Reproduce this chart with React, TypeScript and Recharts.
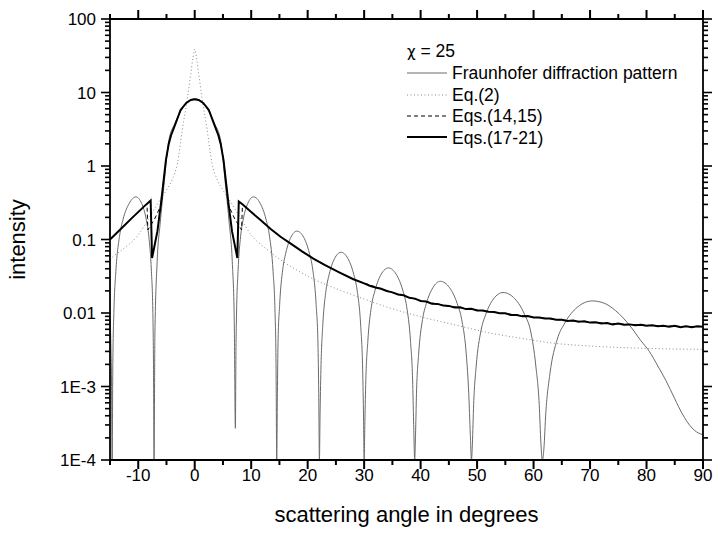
import React from 'react';
import { LineChart, Line, XAxis, YAxis } from 'recharts';

// scattering angle (deg) vs intensity (chi = 25)
const fraunhofer: [number, number][] = [
  [-15, 0.009], [-14.85, 0.0039], [-14.72, 0.001], [-14.62, 1e-4],
  [-14.5, 0.002], [-14.3, 0.011], [-13.96, 0.037], [-13.31, 0.111], [-12.67, 0.19], [-11.6, 0.31],
  [-10.4, 0.38], [-9.4, 0.31], [-8.6, 0.19], [-8.13, 0.111], [-7.67, 0.037], [-7.42, 0.011], [-7.3, 0.002], [-7.2, 1e-4],
  [-7.05, 0.005], [-6.65, 0.05], [-6.1, 0.17], [-5.5, 0.5], [-4.6, 2.2], [-3.5, 3.8], [-2.2, 6.0], [-1.0, 7.7],
  [0, 8.2], [1.0, 7.7], [2.2, 6.0], [3.5, 3.8], [4.6, 2.2], [5.5, 0.5], [6.1, 0.17], [6.65, 0.05], [7.0, 0.008], [7.2, 0.00027],
  [7.3, 0.003], [7.42, 0.011], [7.67, 0.037], [8.13, 0.111], [8.6, 0.19], [9.4, 0.31], [10.4, 0.38],
  [11.6, 0.31], [12.61, 0.19], [13.24, 0.111], [13.87, 0.037], [14.21, 0.011], [14.4, 0.002], [14.52, 1e-4],
  [14.64, 0.0008], [14.75, 0.0039], [15.04, 0.013], [15.58, 0.039], [16.12, 0.065], [17.02, 0.107], [18.1, 0.13],
  [19.3, 0.107], [20.3, 0.065], [20.9, 0.039], [21.5, 0.013], [21.82, 0.0039], [21.96, 0.0008], [22.08, 1e-4],
  [22.2, 0.00045], [22.37, 0.002], [22.67, 0.0067], [23.24, 0.0201], [23.81, 0.0335], [24.76, 0.055], [25.9, 0.067],
  [27.13, 0.055], [28.16, 0.0335], [28.77, 0.0201], [29.39, 0.0067], [29.71, 0.002], [29.88, 0.00045], [30.0, 1e-4],
  [30.13, 0.00033], [30.3, 0.00123], [30.65, 0.0041], [31.29, 0.0123], [31.94, 0.0205], [33.01, 0.0336], [34.3, 0.041],
  [35.68, 0.0336], [36.83, 0.0205], [37.52, 0.0123], [38.21, 0.0041], [38.58, 0.00123], [38.76, 0.00033], [38.95, 1e-4],
  [39.1, 0.00022], [39.27, 0.00081], [39.64, 0.0027], [40.33, 0.0081], [41.02, 0.0135], [42.17, 0.0221], [43.5, 0.027],
  [45.12, 0.0221], [46.47, 0.0135], [47.28, 0.0081], [48.09, 0.0027], [48.52, 0.00081], [48.8, 0.00022], [49.0, 1e-4],
  [49.17, 0.00017], [49.39, 0.00057], [49.84, 0.0019], [50.68, 0.0057], [51.52, 0.0095], [52.92, 0.0156], [54.6, 0.019],
  [56.69, 0.0156], [58.42, 0.0095], [59.47, 0.0057], [60.4, 0.0019], [61.0, 0.00057], [61.3, 0.00017], [61.55, 1e-4],
  [61.82, 0.00014], [62.17, 0.00044], [62.88, 0.00146], [64.2, 0.0044], [65.53, 0.0073], [67.75, 0.012], [70.4, 0.0146],
  [72.5, 0.0136], [74.5, 0.0108], [77.0, 0.0068], [79.0, 0.0042], [80.5, 0.003], [82.0, 0.0019], [83.4, 0.00122],
  [85.0, 0.00068], [86.3, 0.00043], [88.1, 0.00027], [89.6, 0.000226], [90, 0.000222],
];

const eq2: [number, number][] = [
  [-15, 0.053], [-14.6, 0.057], [-13, 0.071], [-12, 0.082], [-11, 0.095], [-10, 0.115], [-9, 0.15], [-8, 0.2],
  [-7, 0.27], [-6, 0.36], [-5, 0.47], [-4, 0.65], [-3.05, 1.1], [-2.2, 3.1], [-1.3, 8.3], [-0.7, 18], [-0.3, 30],
  [0, 39], [0.3, 30], [0.7, 18], [1.3, 8.3], [2.2, 3.1], [3.05, 1.1], [4, 0.65], [5, 0.47], [6, 0.36], [7, 0.27],
  [8, 0.2], [9, 0.15], [10, 0.115], [11, 0.095], [12, 0.082], [13, 0.071], [14.6, 0.057], [17, 0.043], [21, 0.029],
  [25, 0.0215], [29, 0.0165], [33.4, 0.0125], [40, 0.0089], [46.4, 0.0068], [52, 0.0054], [58, 0.0045],
  [63.4, 0.0039], [71.6, 0.0035], [80, 0.0033], [90, 0.0032],
];

const eq1415: [number, number][] = [
  [-15, 0.1], [-13, 0.141], [-11, 0.2], [-9, 0.28], [-8.45, 0.31], [-8.3, 0.135], [-7.1, 0.19], [-5.9, 0.3],
  [-5.6, 0.55], [-5.1, 1.2], [-4.6, 2.0], [-4.2, 2.6], [-3.5, 3.6], [-2.5, 5.8], [-1.5, 7.2], [-0.7, 7.9],
  [0, 8.1], [0.7, 7.9], [1.5, 7.2], [2.5, 5.8], [3.5, 3.6], [4.2, 2.6], [4.6, 2.0], [5.1, 1.2], [5.6, 0.55],
  [5.9, 0.3], [7.1, 0.19], [8.3, 0.135], [8.45, 0.3], [9.9, 0.24], [11.65, 0.184], [13.4, 0.14], [15.2, 0.109],
  [17, 0.088], [19, 0.069], [21, 0.055], [23, 0.045], [25.5, 0.036], [28, 0.029], [30, 0.0255], [35, 0.019],
  [40, 0.0147], [45, 0.0124], [50, 0.011], [55, 0.0098], [60, 0.0088], [65, 0.008], [70, 0.0075], [75, 0.0071],
  [80, 0.0068], [85, 0.0066], [90, 0.0065],
];

const eq1721: [number, number][] = [
  [-15, 0.1], [-13, 0.141], [-11, 0.2], [-9, 0.28], [-7.8, 0.34], [-7.55, 0.056], [-6.6, 0.13], [-6.0, 0.3],
  [-5.6, 0.55], [-5.1, 1.2], [-4.6, 2.0], [-4.2, 2.6], [-3.5, 3.6], [-2.5, 5.8], [-1.5, 7.2], [-0.7, 7.9],
  [0, 8.1], [0.7, 7.9], [1.5, 7.2], [2.5, 5.8], [3.5, 3.6], [4.2, 2.6], [4.6, 2.0], [5.1, 1.2], [5.6, 0.55],
  [6.0, 0.3], [6.6, 0.13], [7.55, 0.056], [7.8, 0.33], [8.5, 0.3], [9.9, 0.24], [11.65, 0.184], [13.4, 0.14],
  [15.2, 0.109], [17, 0.088], [19, 0.069], [21, 0.055], [23, 0.045], [25.5, 0.036], [28, 0.029],
  [30, 0.0253], [31, 0.0235], [32, 0.0222], [33, 0.0214], [34, 0.0199], [35, 0.0191], [36, 0.0179], [37, 0.0174],
  [38, 0.0161], [39, 0.0157], [40, 0.0146], [41, 0.0143], [42, 0.0134], [43, 0.0133], [44, 0.0126], [45, 0.0125],
  [46, 0.0119], [47, 0.012], [48, 0.0113], [49, 0.0114], [50, 0.0108], [51, 0.0108], [52, 0.0104], [53, 0.0103],
  [54, 0.0099], [55, 0.0099], [56, 0.0094], [57, 0.0094], [58, 0.009], [59, 0.0091], [60, 0.0087], [61, 0.0087],
  [62, 0.0084], [63, 0.0084], [64, 0.0081], [65, 0.0081], [66, 0.0078], [67, 0.0079], [68, 0.0076], [69, 0.0077],
  [70, 0.0074], [71, 0.0075], [72, 0.0072], [73, 0.0073], [74, 0.007], [75, 0.0072], [76, 0.0069], [77, 0.007],
  [78, 0.0068], [79, 0.0069], [80, 0.0067], [81, 0.0068], [82, 0.0066], [83, 0.0067], [84, 0.0065], [85, 0.0067],
  [86, 0.0064], [87, 0.0066], [88, 0.0064], [89, 0.0066], [90, 0.0065],
];

const xTicks = [-15, -10, -5, 0, 5, 10, 15, 20, 25, 30, 35, 40, 45, 50, 55, 60, 65, 70, 75, 80, 85, 90];
const xLabelled = [-10, 0, 10, 20, 30, 40, 50, 60, 70, 80, 90];
const decades = [1e-4, 1e-3, 0.01, 0.1, 1, 10, 100];
const decadeLabels = ['1E-4', '1E-3', '0.01', '0.1', '1', '10', '100'];
const minorSteps = [2, 3, 4, 5, 6, 7, 8, 9];

const yTicks = decades.flatMap((d, i) =>
  i < decades.length - 1 ? [d, ...minorSteps.map(m => d * m)] : [d]
);

const toPoints = (arr: [number, number][]) => arr.map(([x, y]) => ({ x, y }));

const FONT = '"Liberation Sans", Arial, Helvetica, sans-serif';
const MAJOR = 9;
const MINOR = 5;

const decadeIndex = (v: number) => decades.findIndex(d => Math.abs(Math.log10(v / d)) < 1e-6);

// tick marks point outwards on all four sides of the frame
const BottomTick = (props: any) => {
  const { x, y, payload } = props;
  const v = payload.value;
  const len = v % 10 === 0 ? MAJOR : MINOR;
  return (
    <g>
      <rect x={x - 1} y={y} width={2} height={len} fill="#000" />
      {xLabelled.includes(v) && (
        <text x={x} y={y + 21} textAnchor="middle" fontSize={17} fontFamily={FONT} fill="#000">{v}</text>
      )}
    </g>
  );
};

const TopTick = (props: any) => {
  const { x, y, payload } = props;
  const len = payload.value % 10 === 0 ? MAJOR : MINOR;
  return <rect x={x - 1} y={y - len} width={2} height={len} fill="#000" />;
};

const LeftTick = (props: any) => {
  const { x, y, payload } = props;
  const idx = decadeIndex(payload.value);
  const len = idx >= 0 ? MAJOR : MINOR;
  return (
    <g>
      <rect x={x - len} y={y - 0.8} width={len} height={1.6} fill="#000" />
      {idx >= 0 && (
        <text x={x - 14} y={y} dy="0.36em" textAnchor="end" fontSize={17} fontFamily={FONT} fill="#000">
          {decadeLabels[idx]}
        </text>
      )}
    </g>
  );
};

const RightTick = (props: any) => {
  const { x, y, payload } = props;
  const len = decadeIndex(payload.value) >= 0 ? MAJOR : MINOR;
  return <rect x={x} y={y - 0.8} width={len} height={1.6} fill="#000" />;
};

const axisLine = { stroke: '#000', strokeWidth: 1.8 };

export default function App() {
  return (
    <div style={{ position: 'absolute', left: 0, top: 0, width: 713, height: 533, background: '#fff' }}>
      <svg width={713} height={533} style={{ position: 'absolute', left: 0, top: 0 }}>
        <g fontFamily={FONT} fontSize={17.5} fill="#000">
          <text x={407} y={57}>
            <tspan fontFamily='"DejaVu Sans", sans-serif' fontSize={15}>χ</tspan> = 25
          </text>
          <line x1={407} y1={73} x2={447} y2={73} stroke="#6a6a6a" strokeWidth={1} />
          <text x={452} y={79}>Fraunhofer diffraction pattern</text>
          <line x1={407} y1={95} x2={447} y2={95} stroke="#8a8a8a" strokeWidth={1} strokeDasharray="1 2.5" />
          <text x={452} y={101}>Eq.(2)</text>
          <line x1={407} y1={116} x2={447} y2={116} stroke="#000" strokeWidth={1} strokeDasharray="4 3" />
          <text x={452} y={122}>Eqs.(14,15)</text>
          <line x1={407} y1={137} x2={447} y2={137} stroke="#000" strokeWidth={2} />
          <text x={452} y={144}>Eqs.(17-21)</text>
        </g>
        <text x={406.5} y={522} textAnchor="middle" fontFamily={FONT} fontSize={22} fill="#000">
          scattering angle in degrees
        </text>
        <text x={25} y={239.5} textAnchor="middle" fontFamily={FONT} fontSize={22} fill="#000" transform="rotate(-90 25 239.5)">
          intensity
        </text>
      </svg>

      <LineChart width={713} height={533} margin={{ top: 0, right: 0, bottom: 0, left: 0 }}>
        <XAxis
          xAxisId="bottom"
          type="number"
          dataKey="x"
          domain={[-15, 90]}
          ticks={xTicks}
          interval={0}
          height={73}
          tickSize={0}
          tickMargin={0}
          tickLine={false}
          axisLine={axisLine}
          tick={<BottomTick />}
        />
        <XAxis
          xAxisId="top"
          orientation="top"
          type="number"
          dataKey="x"
          domain={[-15, 90]}
          ticks={xTicks}
          interval={0}
          height={19}
          tickSize={0}
          tickMargin={0}
          tickLine={false}
          axisLine={axisLine}
          tick={<TopTick />}
        />
        <YAxis
          yAxisId="left"
          scale="log"
          type="number"
          domain={[1e-4, 100]}
          ticks={yTicks}
          interval={0}
          width={110}
          tickSize={0}
          tickMargin={0}
          tickLine={false}
          axisLine={axisLine}
          tick={<LeftTick />}
        />
        <YAxis
          yAxisId="right"
          orientation="right"
          scale="log"
          type="number"
          domain={[1e-4, 100]}
          ticks={yTicks}
          interval={0}
          width={10}
          tickSize={0}
          tickMargin={0}
          tickLine={false}
          axisLine={axisLine}
          tick={<RightTick />}
        />
        <Line xAxisId="bottom" yAxisId="left" data={toPoints(eq2)} dataKey="y" type="monotoneX" stroke="#8a8a8a" strokeWidth={1} strokeDasharray="1 2.5" dot={false} activeDot={false} isAnimationActive={false} />
        <Line xAxisId="bottom" yAxisId="left" data={toPoints(fraunhofer)} dataKey="y" type="monotoneX" stroke="#6a6a6a" strokeWidth={1} dot={false} activeDot={false} isAnimationActive={false} />
        <Line xAxisId="top" yAxisId="right" data={toPoints(eq1415)} dataKey="y" type="linear" stroke="#000" strokeWidth={1} strokeDasharray="4 3" dot={false} activeDot={false} isAnimationActive={false} />
        <Line xAxisId="top" yAxisId="right" data={toPoints(eq1721)} dataKey="y" type="linear" stroke="#000" strokeWidth={2} dot={false} activeDot={false} isAnimationActive={false} />
      </LineChart>
    </div>
  );
}
